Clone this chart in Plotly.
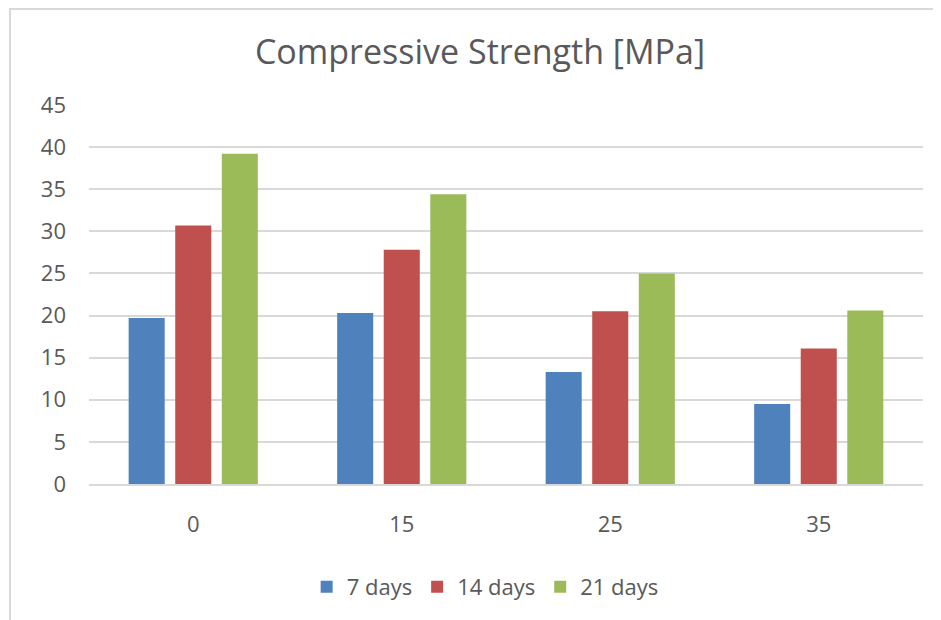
import plotly.graph_objects as go

categories = ["0", "15", "25", "35"]
days7 = [19.7, 20.3, 13.3, 9.5]
days14 = [30.7, 27.8, 20.5, 16.1]
days21 = [39.2, 34.4, 25.0, 20.6]
series_names = ["7 days", "14 days", "21 days"]
colors = ["#4F81BD", "#C0504D", "#9BBB59"]
y_ticks = [0, 5, 10, 15, 20, 25, 30, 35, 40, 45]

# page body has an 8px margin, so the figure is sized/positioned to compensate
W, H = 933, 612
L, R, T, B = 81, 18, 97, 136
pw, ph = W - L - R, H - T - B

fig = go.Figure()
for name, vals, col in zip(series_names, [days7, days14, days21], colors):
    fig.add_trace(go.Bar(x=categories, y=vals, name=name, marker_color=col,
                         marker_line_width=0))

font_fam = "Open Sans, Noto Sans, sans-serif"
fig.update_layout(
    width=W, height=H,
    margin=dict(l=L, r=R, t=T, b=B, autoexpand=False),
    paper_bgcolor="white", plot_bgcolor="white",
    barmode="group", bargap=0.33, bargroupgap=0.226,
    title=dict(text="Compressive Strength [MPa]", x=472 / W, xanchor="center",
               y=1 - 44 / H, yanchor="middle",
               font=dict(family=font_fam, size=34, color="#595959")),
    font=dict(family=font_fam, size=22, color="#595959"),
    xaxis=dict(type="category", showgrid=False, showline=True, linecolor="#D9D9D9",
               linewidth=2, ticks="", ticklabelstandoff=20, automargin=False,
               tickfont=dict(size=22, color="#595959")),
    yaxis=dict(range=[0, 45], tickvals=y_ticks, showgrid=True, gridcolor="#D9D9D9",
               gridwidth=1.5, zeroline=False, showline=False, ticks="",
               ticklabelstandoff=22, automargin=False,
               tickfont=dict(size=22, color="#595959")),
    legend=dict(orientation="h", x=0.475, xanchor="center",
                y=(476 - 579) / ph, yanchor="middle",
                font=dict(size=22, color="#595959"), itemwidth=30,
                traceorder="normal"),
    shapes=[dict(type="rect", xref="paper", yref="paper",
                 x0=(2 - L) / pw, x1=(960 - L) / pw,
                 y0=(476 - 640) / ph, y1=(476 - 1) / ph,
                 line=dict(color="#D9D9D9", width=2), fillcolor="rgba(0,0,0,0)",
                 layer="below")],
)

fig.write_html("out.html")
